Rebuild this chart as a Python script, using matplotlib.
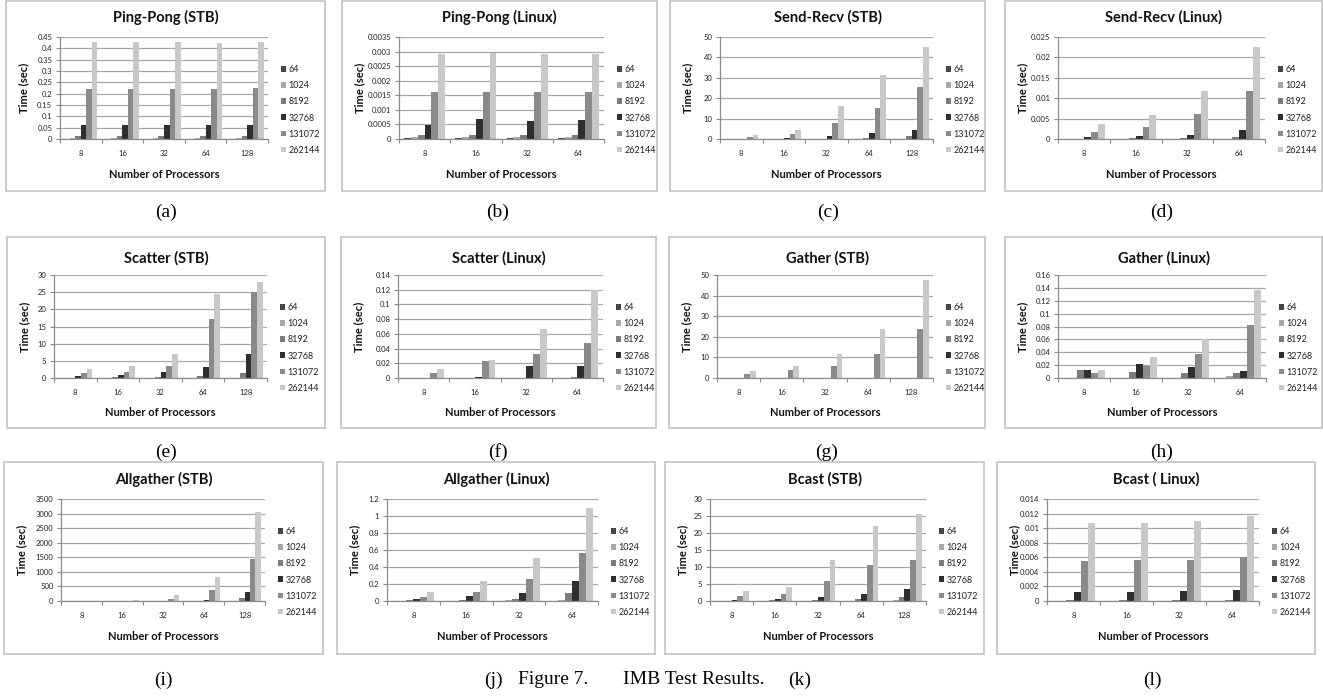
import numpy as np
import matplotlib
matplotlib.use('Agg')
import matplotlib.pyplot as plt
from matplotlib.patches import Rectangle
from matplotlib.ticker import MultipleLocator, FixedLocator, FuncFormatter

plt.rcParams['font.family'] = ['Lato', 'DejaVu Sans']

W, H = 1323, 696

sizes = ['64', '1024', '8192', '32768', '131072', '262144']
procs_stb = ['8', '16', '32', '64', '128']
procs_linux = ['8', '16', '32', '64']

# each row is one message size (64 ... 262144), columns follow the processors
pingpong_stb = [
    [0.0003, 0.0003, 0.0003, 0.0003, 0.0003],
    [0.003, 0.003, 0.004, 0.004, 0.004],
    [0.015, 0.015, 0.015, 0.015, 0.015],
    [0.06, 0.06, 0.06, 0.06, 0.06],
    [0.222, 0.222, 0.222, 0.222, 0.225],
    [0.428, 0.428, 0.428, 0.425, 0.428],
]
pingpong_linux = [
    [0.00004, 0.00004, 0.00004, 0.00004],
    [0.00006, 0.00006, 0.00006, 0.00006],
    [0.00013, 0.00013, 0.00013, 0.00013],
    [0.00048, 0.0007, 0.00063, 0.00066],
    [0.0016, 0.0016, 0.0016, 0.00162],
    [0.0029, 0.00296, 0.00293, 0.0029],
]
sendrecv_stb = [
    [0.0, 0.0, 0.0, 0.0, 0.0],
    [0.02, 0.05, 0.1, 0.1, 0.2],
    [0.05, 0.1, 0.2, 0.7, 1.4],
    [0.2, 0.7, 1.4, 3.0, 4.6],
    [0.8, 2.3, 7.6, 15.2, 25.3],
    [1.8, 4.6, 16.4, 31.2, 45.0],
]
sendrecv_linux = [
    [0.0, 0.0, 0.0, 0.0],
    [0.00003, 0.00005, 0.00008, 0.0001],
    [0.0001, 0.0003, 0.0003, 0.0005],
    [0.0004, 0.0007, 0.001, 0.0022],
    [0.0017, 0.003, 0.0061, 0.0117],
    [0.0037, 0.0058, 0.0117, 0.0225],
]
scatter_stb = [
    [0.0, 0.0, 0.0, 0.0, 0.0],
    [0.02, 0.05, 0.05, 0.1, 0.1],
    [0.1, 0.3, 0.3, 0.6, 1.6],
    [0.5, 1.0, 1.8, 3.2, 6.9],
    [1.5, 1.8, 3.6, 17.3, 25.0],
    [2.6, 3.4, 7.0, 24.5, 28.1],
]
scatter_linux = [
    [0.0, 0.0, 0.0, 0.0],
    [0.0, 0.0, 0.0002, 0.0003],
    [0.0002, 0.0004, 0.0005, 0.001],
    [0.0005, 0.002, 0.016, 0.016],
    [0.007, 0.023, 0.032, 0.048],
    [0.012, 0.024, 0.066, 0.12],
]
gather_stb = [
    [0.0, 0.0, 0.0, 0.0, 0.0],
    [0.0, 0.0, 0.0, 0.0, 0.0],
    [0.0, 0.0, 0.0, 0.0, 0.05],
    [0.02, 0.02, 0.05, 0.05, 0.1],
    [1.8, 4.0, 5.6, 11.6, 23.6],
    [3.6, 5.6, 11.6, 23.6, 47.6],
]
gather_linux = [
    [0.0, 0.0, 0.0, 0.0],
    [0.0, 0.0, 0.0, 0.003],
    [0.012, 0.010, 0.008, 0.007],
    [0.013, 0.022, 0.017, 0.011],
    [0.007, 0.018, 0.038, 0.082],
    [0.013, 0.032, 0.06, 0.136],
]
allgather_stb = [
    [0.0, 0.0, 0.0, 0.0, 0.0],
    [0.0, 0.0, 0.0, 2.0, 5.0],
    [0.0, 1.0, 5.0, 15.0, 90.0],
    [0.5, 3.0, 15.0, 40.0, 300.0],
    [2.0, 10.0, 60.0, 380.0, 1450.0],
    [5.0, 50.0, 190.0, 820.0, 3070.0],
]
allgather_linux = [
    [0.0, 0.0, 0.0, 0.0],
    [0.002, 0.004, 0.006, 0.01],
    [0.01, 0.015, 0.025, 0.095],
    [0.02, 0.055, 0.095, 0.23],
    [0.045, 0.11, 0.255, 0.56],
    [0.11, 0.235, 0.505, 1.09],
]
bcast_stb = [
    [0.0, 0.0, 0.0, 0.0, 0.0],
    [0.02, 0.03, 0.05, 0.1, 0.2],
    [0.1, 0.15, 0.3, 0.6, 1.1],
    [0.3, 0.6, 1.2, 2.2, 3.4],
    [1.5, 2.2, 6.0, 10.7, 12.2],
    [2.8, 4.0, 12.2, 22.2, 25.6],
]
bcast_linux = [
    [0.00001, 0.00001, 0.00001, 0.00001],
    [0.00003, 0.00003, 0.00003, 0.00003],
    [0.0002, 0.0002, 0.0002, 0.0002],
    [0.0013, 0.0013, 0.0014, 0.0015],
    [0.0055, 0.0056, 0.0056, 0.006],
    [0.0107, 0.0107, 0.011, 0.0116],
]

titles = ['Ping-Pong (STB)', 'Ping-Pong (Linux)', 'Send-Recv (STB)', 'Send-Recv (Linux)',
          'Scatter (STB)', 'Scatter (Linux)', 'Gather (STB)', 'Gather (Linux)',
          'Allgather (STB)', 'Allgather (Linux)', 'Bcast (STB)', 'Bcast ( Linux)']
datasets = [pingpong_stb, pingpong_linux, sendrecv_stb, sendrecv_linux,
            scatter_stb, scatter_linux, gather_stb, gather_linux,
            allgather_stb, allgather_linux, bcast_stb, bcast_linux]
cats = [procs_stb, procs_linux] * 6
ymax = [0.45, 0.0035, 50, 0.025, 30, 0.14, 50, 0.16, 3500, 1.2, 30, 0.014]
ystep = [0.05, 0.0005, 10, 0.005, 5, 0.02, 10, 0.02, 500, 0.2, 5, 0.002]
letters = ['(a)', '(b)', '(c)', '(d)', '(e)', '(f)', '(g)', '(h)', '(i)', '(j)', '(k)', '(l)']

# pixel boxes: chart frame and plot area
boxes = [(6, 1, 325, 191), (342, 1, 657, 191), (670, 1, 985, 191), (1005, 1, 1322, 191),
         (7, 237, 325, 428), (341, 237, 656, 428), (669, 237, 985, 428), (1005, 237, 1322, 428),
         (4, 462, 323, 654), (337, 462, 655, 654), (665, 462, 984, 654), (997, 462, 1315, 654)]
plots = [(60, 37, 268, 139), (399, 37, 604, 139), (720, 37, 933, 139), (1058, 37, 1265, 139),
         (54, 275, 267, 378), (398, 275, 603, 378), (717, 275, 933, 378), (1058, 275, 1266, 378),
         (61, 499, 265, 601), (387, 499, 598, 601), (710, 499, 926, 601), (1047, 499, 1259, 601)]
title_dy = [16, 16, 16, 16, 21, 21, 21, 21, 17, 17, 17, 17]
cap_y = [212] * 4 + [452] * 4 + [680] * 4
cap_x = [166, 498, 828, 1162, 166, 498, 827, 1162, 163, 493, 800, 1152]

colors = ['#444444', '#a8a8a8', '#7c7c7c', '#2e2e2e', '#8a8a8a', '#c8c8c8']
grid_c = '#a8a8a8'


def fx(x):
    return x / W


def fy(y):
    return 1 - y / H


def fmt(v, pos):
    return '{:g}'.format(round(v, 8))


fig = plt.figure(figsize=(W / 100, H / 100), dpi=100)

for i in range(12):
    bx0, by0, bx1, by1 = boxes[i]
    fig.patches.append(Rectangle((fx(bx0), fy(by1)), fx(bx1 - bx0), (by1 - by0) / H,
                                 transform=fig.transFigure, fill=False,
                                 edgecolor='#c4c4c4', lw=1.2))
    px0, py0, px1, py1 = plots[i]
    ax = fig.add_axes([fx(px0), fy(py1), fx(px1 - px0), (py1 - py0) / H])
    vals = np.array(datasets[i])
    n = len(cats[i])
    w = 1 / 7.5
    x = np.arange(n)
    handles = []
    for k in range(6):
        b = ax.bar(x + (k - 2.5) * w, vals[k], width=w, color=colors[k], lw=0)
        handles.append(b)
    ax.set_xlim(-0.5, n - 0.5)
    ax.set_ylim(0, ymax[i])
    ax.yaxis.set_major_locator(MultipleLocator(ystep[i]))
    ax.yaxis.set_major_formatter(FuncFormatter(fmt))
    ax.set_xticks(x)
    ax.set_xticklabels(cats[i])
    ax.xaxis.set_minor_locator(FixedLocator(np.arange(n + 1) - 0.5))
    ax.tick_params(axis='x', which='major', length=0, labelsize=5.5, pad=8, labelcolor='#222222')
    ax.tick_params(axis='x', which='minor', length=3, color='#8c8c8c', width=0.8)
    ax.tick_params(axis='y', length=3, color='#8c8c8c', width=0.8, labelsize=5.5,
                   pad=2.5, labelcolor='#222222')
    ax.yaxis.grid(True, color=grid_c, lw=0.9)
    ax.set_axisbelow(True)
    for s in ['top', 'right']:
        ax.spines[s].set_visible(False)
    for s in ['left', 'bottom']:
        ax.spines[s].set_color('#8c8c8c')
        ax.spines[s].set_linewidth(0.9)

    fig.text(fx((bx0 + bx1) / 2), fy(by0 + title_dy[i]), titles[i], ha='center', va='center',
             fontsize=10.5, fontweight='bold', color='#111111')
    fig.text(fx((px0 + px1) / 2), fy(py1 + 35), 'Number of Processors', ha='center',
             va='center', fontsize=8, fontweight='bold', color='#111111')
    fig.text(fx(bx0 + 18), fy((py0 + py1) / 2), 'Time (sec)', ha='center', va='center',
             rotation=90, fontsize=8, fontweight='bold', color='#111111')
    fig.legend(handles, sizes, loc='center left',
               bbox_to_anchor=(fx(px1 + 8), fy(py0 + 73)), frameon=False,
               fontsize=6.5, handlelength=0.6, handleheight=0.6, handletextpad=0.3,
               labelspacing=0.78, borderpad=0, labelcolor='#222222')
    fig.text(fx(cap_x[i]), fy(cap_y[i]), letters[i], ha='center', va='center',
             fontsize=14, family='Liberation Serif')

fig.text(fx(518), fy(680), 'Figure 7.', ha='left', va='center', fontsize=14,
         family='Liberation Serif')
fig.text(fx(623), fy(680), 'IMB Test Results.', ha='left', va='center', fontsize=14,
         family='Liberation Serif')

fig.savefig('out.png', dpi=100)
